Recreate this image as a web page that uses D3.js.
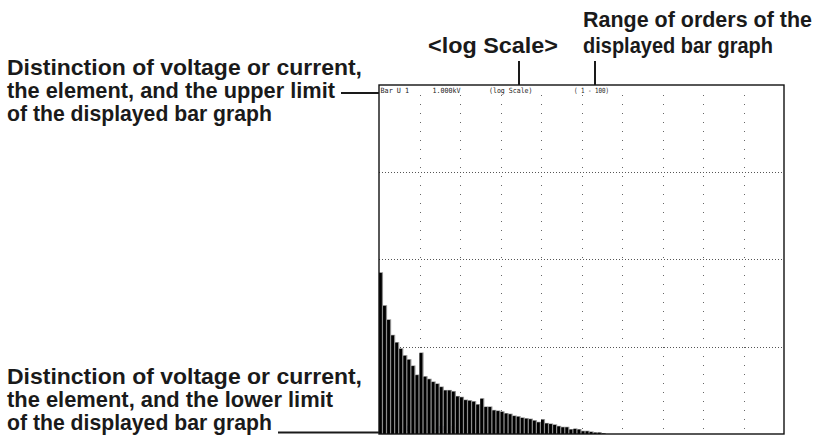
<!DOCTYPE html>
<html><head><meta charset="utf-8">
<script src="https://cdn.jsdelivr.net/npm/d3@7"></script>
<style>html,body{margin:0;padding:0;background:#fff}svg{display:block}</style>
</head><body>
<svg id="chart" width="814" height="436"></svg>
<script>
// Harmonic orders shown (1 - 100)
const orders = d3.range(1, 101);
// Harmonic amplitudes (V) for orders 1..56; higher orders are below the 0.1 V lower limit
const amplitudes = [7.13, 2.99, 2.06, 1.37, 1.13, 0.96, 0.80, 0.72, 0.61, 0.48,
  0.86, 0.46, 0.43, 0.40, 0.38, 0.35, 0.32, 0.32, 0.31, 0.273,
  0.267, 0.248, 0.244, 0.238, 0.220, 0.257, 0.207, 0.207, 0.189, 0.186,
  0.182, 0.174, 0.171, 0.163, 0.160, 0.155, 0.152, 0.150, 0.144, 0.138,
  0.148, 0.134, 0.132, 0.129, 0.124, 0.121, 0.121, 0.114, 0.116, 0.114,
  0.109, 0.109, 0.107, 0.105, 0.105, 0.1026];
const yDomain = [0.1, 1000];
const gridValues = [1, 10, 100];
const verticalGridOrders = [11, 21, 31, 41, 51, 61, 71, 81, 91];
const headerTop = ["Bar U 1", "1.000kV", "(log Scale)", "(  1 - 100)"];
const headerBottom = ["Bar U 1", "100.0mV"];
const annTopLeft = ["Distinction of voltage or current,", "the element, and the upper limit", "of the displayed bar graph"];
const annBottomLeft = ["Distinction of voltage or current,", "the element, and the lower limit", "of the displayed bar graph"];
const annLog = "<log Scale>";
const annRange = ["Range of orders of the", "displayed bar graph"];

const svg = d3.select("#chart");
const L = 379, R = 784, T = 85, B = 434;
const x = d3.scaleBand().domain(orders).range([L, R]).paddingInner(0).paddingOuter(0);
const y = d3.scaleLog().domain(yDomain).range([B, T]);

// bottom label (drawn behind bars)
const mono = "'DejaVu Sans Mono', 'Liberation Mono', monospace";
const hbx = [381, 432];
svg.selectAll("text.hb").data(headerBottom).join("text")
  .attr("x", (d, i) => hbx[i]).attr("y", B - 3)
  .attr("font-family", mono).attr("font-size", 7.2).attr("fill", "#444")
  .attr("textLength", (d, i) => [28, 29][i]).attr("lengthAdjust", "spacingAndGlyphs")
  .text(d => d);

// grid
svg.selectAll("line.hg").data(gridValues).join("line")
  .attr("x1", L).attr("x2", R).attr("y1", d => Math.round(y(d)) + 0.5).attr("y2", d => Math.round(y(d)) + 0.5)
  .attr("stroke", "#555").attr("stroke-width", 1).attr("stroke-dasharray", "1,2");
svg.selectAll("line.vg").data(verticalGridOrders).join("line")
  .attr("x1", d => Math.round(x(d)) + 0.5).attr("x2", d => Math.round(x(d)) + 0.5)
  .attr("y1", T + 10).attr("y2", B)
  .attr("stroke", "#666").attr("stroke-width", 1).attr("stroke-dasharray", "1,8");

// bars
const barData = amplitudes.map((v, i) => ({order: orders[i], v}));
const bw = x.bandwidth();
const g = svg.append("g");
g.selectAll("rect.bg").data(barData).join("rect")
  .attr("x", d => x(d.order)).attr("width", bw)
  .attr("y", d => y(d.v)).attr("height", d => B - y(d.v))
  .attr("fill", "#8c8c8c");
g.selectAll("rect.fg").data(barData).join("rect")
  .attr("x", d => x(d.order)).attr("width", bw - 1.2)
  .attr("y", d => y(d.v) + 0.6).attr("height", d => Math.max(0, B - y(d.v) - 0.6))
  .attr("fill", "#000");

// frame
svg.append("rect").attr("x", L).attr("y", T).attr("width", R - L).attr("height", B - T)
  .attr("fill", "none").attr("stroke", "#111").attr("stroke-width", 1.4);

// header
const htx = [380.5, 432.5, 489, 574];
const htw = [28.5, 28, 43.5, 35];
svg.selectAll("text.ht").data(headerTop).join("text")
  .attr("x", (d, i) => htx[i]).attr("y", T + 7.5)
  .attr("font-family", mono).attr("font-size", 7.2).attr("fill", "#222")
  .attr("textLength", (d, i) => htw[i]).attr("lengthAdjust", "spacingAndGlyphs")
  .text(d => d);

// annotations
const sans = "'Liberation Sans', Arial, Helvetica, sans-serif";
function ann(lines, xs, ys, widths) {
  lines.forEach((t, i) => {
    svg.append("text").attr("x", xs).attr("y", ys[i])
      .attr("font-family", sans).attr("font-weight", "bold").attr("font-size", 21.5)
      .attr("fill", "#1a1a1a")
      .attr("textLength", widths[i]).attr("lengthAdjust", "spacingAndGlyphs")
      .text(t);
  });
}
ann(annTopLeft, 7, [75, 98, 121], [355, 328, 265]);
ann(annBottomLeft, 7, [384, 407, 430], [355, 326, 265]);
ann([annLog], 428, [53], [130]);
ann(annRange, 583, [27, 53], [229, 190]);

const leaders = [
  [341, 93, L, 93],
  [278, 432.5, L, 432.5],
  [519, 61, 519, T],
  [595, 61, 595, T]
];
svg.selectAll("line.ld").data(leaders).join("line")
  .attr("x1", d => d[0]).attr("y1", d => d[1]).attr("x2", d => d[2]).attr("y2", d => d[3])
  .attr("stroke", "#1a1a1a").attr("stroke-width", 2);
</script>
</body></html>
